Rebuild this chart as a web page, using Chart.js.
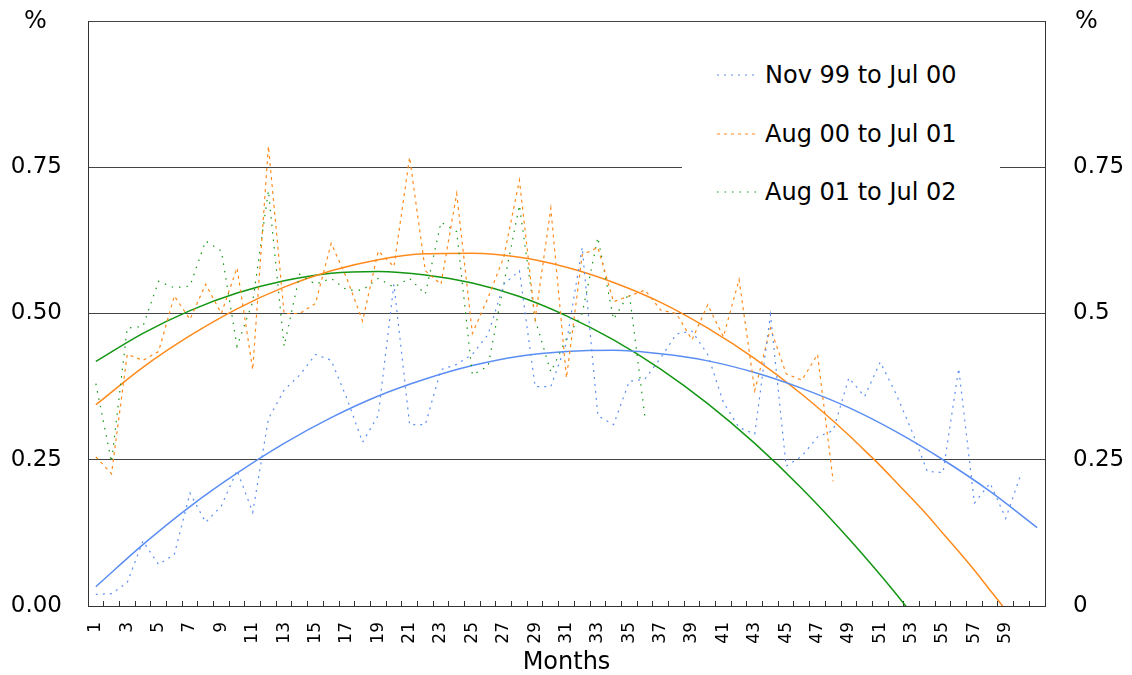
<!DOCTYPE html>
<html>
<head>
<meta charset="utf-8">
<script src="https://cdn.jsdelivr.net/npm/chart.js@4.4.1/dist/chart.umd.min.js"></script>
<style>
    body { margin: 0; background: #fff; font-family: "DejaVu Sans", sans-serif; }
    #wrap { position: relative; width: 1132px; height: 675px; }
    .unit { position: absolute; top: 7px; font-size: 24px; line-height: 26px; color: #000; }
    #legend { position: absolute; left: 682px; top: 50px; width: 318px; height: 170px; background: #fff; }
    .item { position: absolute; left: 35px; height: 30px; display: flex; align-items: center; font-size: 24px; white-space: nowrap; color: #000; }
    .item svg { margin-right: 7px; }
</style>
</head>
<body>
<div id="wrap">
    <canvas id="trend-chart"></canvas>
    <span class="unit" style="left:24px">%</span>
    <span class="unit" style="left:1075px">%</span>
    <div id="legend"></div>
</div>
<script>
// months on the x axis
const months = ['1','2','3','4','5','6','7','8','9','10','11','12','13','14','15','16','17','18','19','20',
    '21','22','23','24','25','26','27','28','29','30','31','32','33','34','35','36','37','38','39','40',
    '41','42','43','44','45','46','47','48','49','50','51','52','53','54','55','56','57','58','59','60','61'];

const seriesNames = ['Nov 99 to Jul 00', 'Aug 00 to Jul 01', 'Aug 01 to Jul 02'];

// monthly values, %
const nov99 = [0.02, 0.021, 0.04, 0.111, 0.071, 0.088, 0.193, 0.143, 0.171, 0.232,
    0.16, 0.32, 0.369, 0.395, 0.43, 0.42, 0.355, 0.28, 0.326, 0.55,
    0.31, 0.31, 0.404, 0.413, 0.43, 0.464, 0.55, 0.573, 0.375, 0.375,
    0.45, 0.613, 0.325, 0.31, 0.384, 0.388, 0.424, 0.465, 0.47, 0.43,
    0.348, 0.305, 0.294, 0.498, 0.239, 0.256, 0.289, 0.3, 0.39, 0.358,
    0.417, 0.363, 0.3, 0.23, 0.228, 0.406, 0.176, 0.21, 0.15, 0.228];

const aug00 = [0.255, 0.226, 0.43, 0.42, 0.435, 0.53, 0.49, 0.55, 0.5, 0.578,
    0.404, 0.786, 0.5, 0.5, 0.517, 0.62, 0.56, 0.487, 0.607, 0.58,
    0.767, 0.573, 0.55, 0.705, 0.466, 0.527, 0.596, 0.728, 0.49, 0.68,
    0.39, 0.6, 0.613, 0.52, 0.53, 0.54, 0.506, 0.5, 0.455, 0.515,
    0.46, 0.558, 0.368, 0.475, 0.397, 0.386, 0.43, 0.213];

const aug01 = [0.38, 0.246, 0.475, 0.478, 0.555, 0.544, 0.547, 0.624, 0.607, 0.444,
    0.52, 0.71, 0.444, 0.567, 0.55, 0.56, 0.54, 0.54, 0.56, 0.545,
    0.56, 0.533, 0.656, 0.64, 0.395, 0.41, 0.55, 0.685, 0.49, 0.40,
    0.457, 0.5, 0.63, 0.49, 0.535, 0.323];

// trend lines read every third month (every month near the axis), smoothed between them
const nov99Trend = [0.033, null, null, 0.105, null, null, 0.170, null, null, 0.227, null, null,
    0.278, null, null, 0.322, null, null, 0.359, null, null, 0.388, null, null,
    0.411, null, null, 0.427, null, null, 0.435, null, null, 0.437, null, null,
    0.431, null, null, 0.419, null, null, 0.399, null, null, 0.372, null, null,
    0.339, null, null, 0.298, null, null, 0.250, null, null, 0.196, null, null, 0.134];

const aug00Trend = [0.344, null, null, 0.408, null, null, 0.462, null, null, 0.508, null, null,
    0.545, null, null, 0.573, null, null, 0.592, null, null, 0.602, null, null,
    0.603, null, null, 0.596, null, null, 0.579, null, null, 0.553, null, null,
    0.519, null, null, 0.475, null, null, 0.423, null, null, 0.362, null, null,
    0.292, 0.266, 0.240, 0.212, 0.184, 0.155, 0.124, 0.093, 0.061, 0.027, -0.007, -0.042, -0.079];

const aug01Trend = [0.418, null, null, 0.466, null, null, 0.505, null, null, 0.535, null, null,
    0.556, null, null, 0.569, null, null, 0.572, null, null, 0.566, null, null,
    0.552, null, null, 0.529, null, null, 0.496, null, null, 0.455, null, null,
    0.405, null, null, 0.346, null, null, 0.278, null, null, 0.201, null, null,
    0.115, null, null, 0.021, null, null, -0.083];

const leftTicks = ['0.00', '0.25', '0.50', '0.75'];
const rightTicks = ['0', '0.25', '0.5', '0.75'];

const colors = ['#5b8ef2', '#ff8a1c', '#139613'];
const dashes = [[2, 5], [3, 4], [1.5, 6]];

document.addEventListener('DOMContentLoaded', function() {
    const ctx = document.getElementById('trend-chart');
    const font = 'DejaVu Sans';

    function dataLine(label, values, i) {
        return {
            label: label,
            data: values,
            borderColor: colors[i],
            borderWidth: 1.2,
            borderDash: dashes[i],
            pointRadius: 0,
            tension: 0,
            fill: false
        };
    }

    function trendLine(values, i) {
        return {
            label: 'trend',
            isTrend: true,
            data: values,
            borderColor: colors[i],
            borderWidth: 1.5,
            pointRadius: 0,
            cubicInterpolationMode: 'monotone',
            spanGaps: true,
            capBezierPoints: false,
            fill: false
        };
    }

    // no extra room for the tick labels at the ends of the axes
    function noEndPadding(scale) {
        scale.paddingTop = 0;
        scale.paddingBottom = 0;
    }

    const chart = new Chart(ctx, {
        type: 'line',
        data: {
            labels: months,
            datasets: [
                dataLine(seriesNames[0], nov99, 0),
                dataLine(seriesNames[1], aug00, 1),
                dataLine(seriesNames[2], aug01, 2),
                trendLine(nov99Trend, 0),
                trendLine(aug00Trend, 1),
                trendLine(aug01Trend, 2)
            ]
        },
        options: {
            responsive: true,
            maintainAspectRatio: false,
            animation: false,
            layout: { padding: { top: 21 } },
            plugins: {
                legend: { display: false },
                tooltip: { enabled: false }
            },
            scales: {
                x: {
                    offset: true,
                    grid: { offset: true, drawOnChartArea: false, tickLength: -5, color: '#333' },
                    border: { color: '#333' },
                    ticks: {
                        autoSkip: false,
                        maxRotation: 90,
                        minRotation: 90,
                        padding: 21,
                        color: '#000',
                        font: { family: font, size: 17 },
                        callback: function(value, index) {
                            return (index % 2 === 0 && index < 60) ? months[index] : '';
                        }
                    },
                    title: {
                        display: true,
                        text: 'Months',
                        color: '#000',
                        padding: 0,
                        font: { family: font, size: 24, lineHeight: 1 }
                    },
                    afterFit: function(scale) {
                        scale.height = 69;
                        scale.paddingLeft = 0;
                        scale.paddingRight = 0;
                    }
                },
                y: {
                    position: 'left',
                    min: 0,
                    max: 1,
                    grid: { drawTicks: false, color: '#444' },
                    border: { color: '#333' },
                    ticks: {
                        stepSize: 0.25,
                        padding: 26,
                        color: '#000',
                        font: { family: font, size: 23 },
                        callback: function(value, index) {
                            return leftTicks[index] || '';
                        }
                    },
                    afterFit: function(scale) {
                        scale.width = 88;
                        noEndPadding(scale);
                    }
                },
                y2: {
                    position: 'right',
                    min: 0,
                    max: 1,
                    grid: { drawTicks: false, drawOnChartArea: false },
                    border: { color: '#333' },
                    ticks: {
                        stepSize: 0.25,
                        padding: 28,
                        color: '#000',
                        font: { family: font, size: 23 },
                        callback: function(value, index) {
                            return rightTicks[index] || '';
                        }
                    },
                    afterFit: function(scale) {
                        scale.width = 87;
                        noEndPadding(scale);
                    }
                }
            }
        }
    });

    // legend box in the chart area
    const legend = document.getElementById('legend');
    const rowTops = [10, 69, 127];
    chart.data.datasets.filter(ds => !ds.isTrend).forEach(function(ds, i) {
        const item = document.createElement('div');
        item.className = 'item';
        item.style.top = rowTops[i] + 'px';
        item.innerHTML = '<svg width="41" height="4"><line x1="0" y1="2" x2="41" y2="2" stroke="' +
            ds.borderColor + '" stroke-width="1.2" stroke-dasharray="' + ds.borderDash.join(' ') + '"/></svg>';
        const text = document.createElement('span');
        text.textContent = ds.label;
        item.appendChild(text);
        legend.appendChild(item);
    });
});
</script>
</body>
</html>
